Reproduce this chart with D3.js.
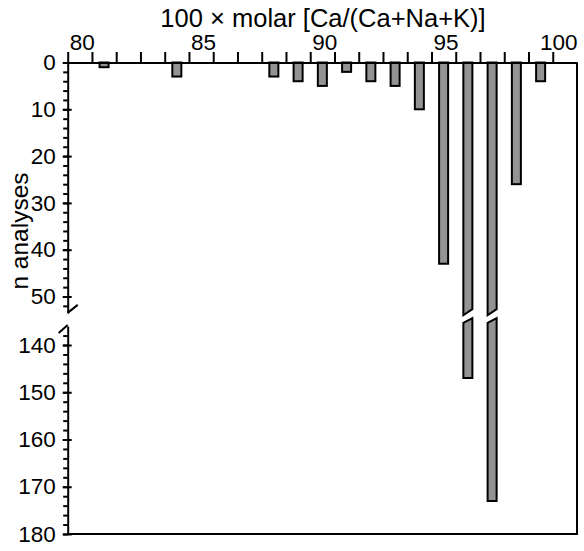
<!DOCTYPE html>
<html>
<head>
<meta charset="utf-8">
<script src="https://cdn.jsdelivr.net/npm/d3@7"></script>
<style>
  body { margin: 0; background: #fff; }
  svg { font-family: "Liberation Sans", Arial, sans-serif; }
  .axis text { font-size: 22.5px; fill: #000; }
  .axis path, .axis line { stroke: #000; stroke-width: 2; }
</style>
</head>
<body>
<div id="chart"></div>
<script>
// datos: bin (inicio del intervalo) y número de análisis
const bins = [81, 84, 88, 89, 90, 91, 92, 93, 94, 95, 96, 97, 98, 99]
const counts = [1, 3, 3, 4, 5, 2, 4, 5, 10, 43, 147, 173, 26, 4]
const xTicks = d3.range(80, 101)
const xLabels = [80, 85, 90, 95, 100]
const yTopLabels = [0, 10, 20, 30, 40, 50]
const yBotLabels = [140, 150, 160, 170, 180]

const width = 584
const height = 551
const plotLeft = 67.7, plotRight = 577
const plotTop = 62.5, plotBottom = 534

const svg = d3.select("div#chart").append("svg").attr("width", width).attr("height", height)

// escalas
const x = d3.scaleLinear().domain([80, 101]).range([plotLeft, plotRight])
const yTop = d3.scaleLinear().domain([0, 53.5]).range([plotTop, plotTop + 53.5 * 4.68])
const yBot = d3.scaleLinear().domain([136, 180]).range([plotBottom - 44 * 4.725, plotBottom])

// barras
const data = bins.map((b, i) => ({bin: b, n: counts[i]}))
const half = 0.186
const bars = svg.append("g").attr("class", "bars")
  .attr("fill", "#939393").attr("stroke", "#000").attr("stroke-width", 2).attr("stroke-linejoin", "miter")

data.forEach(d => {
  const x0 = x(d.bin + 0.5 - half), x1 = x(d.bin + 0.5 + half)
  if (d.n <= 53) {
    bars.append("rect")
      .attr("x", x0).attr("y", yTop(0))
      .attr("width", x1 - x0).attr("height", yTop(d.n) - yTop(0))
  } else {
    // barra rota: parte superior e inferior con corte inclinado
    bars.append("polygon").attr("points", [
      [x0, yTop(0)], [x1, yTop(0)], [x1, yTop(52.7)], [x0, yTop(54)]
    ].join(" "))
    bars.append("polygon").attr("points", [
      [x0, yBot(135.3)], [x1, yBot(134.3)], [x1, yBot(d.n)], [x0, yBot(d.n)]
    ].join(" "))
  }
})

// eje x (arriba)
const xAxis = d3.axisTop(x).tickValues(xTicks).tickSize(10.5).tickSizeOuter(0).tickPadding(2)
  .tickFormat(d => xLabels.includes(d) ? d : "")
const xAxisGroup = svg.append("g").attr("class", "axis").attr("transform", `translate(0, ${plotTop})`).call(xAxis)
// etiquetas empiezan en la marca; la última se ajusta al borde derecho
xAxisGroup.selectAll("text")
  .attr("text-anchor", d => d === 100 ? "end" : "start")
  .attr("dx", d => d === 100 ? x(101) - x(100) : 1.5)

// eje y, tramo superior
const yTopMinor = d3.axisLeft(yTop).tickValues(d3.range(0, 53, 2)).tickSize(4.5).tickSizeOuter(0).tickFormat("")
svg.append("g").attr("class", "axis").attr("transform", `translate(${plotLeft}, 0)`).call(yTopMinor)
const yTopMajor = d3.axisLeft(yTop).tickValues(yTopLabels).tickSize(9).tickPadding(7)
const yTopGroup = svg.append("g").attr("class", "axis").attr("transform", `translate(${plotLeft + 4}, 0)`).call(yTopMajor)
yTopGroup.select(".domain").remove()

// eje y, tramo inferior
const yBotMinor = d3.axisLeft(yBot).tickValues(d3.range(138, 181, 2)).tickSize(4.5).tickSizeOuter(0).tickFormat("")
svg.append("g").attr("class", "axis").attr("transform", `translate(${plotLeft}, 0)`).call(yBotMinor)
const yBotMajor = d3.axisLeft(yBot).tickValues(yBotLabels).tickSize(9).tickPadding(7)
const yBotGroup = svg.append("g").attr("class", "axis").attr("transform", `translate(${plotLeft + 4}, 0)`).call(yBotMajor)
yBotGroup.select(".domain").remove()

// marcas de corte del eje
const brk = svg.append("g").attr("stroke", "#000").attr("stroke-width", 2).attr("fill", "none")
brk.append("line").attr("x1", plotLeft).attr("y1", yTop(53.5)).attr("x2", plotLeft + 10).attr("y2", yTop(53.5) - 8)
brk.append("line").attr("x1", plotLeft - 9).attr("y1", yBot(136) + 7).attr("x2", plotLeft).attr("y2", yBot(136) - 1)

// marco derecho e inferior
svg.append("path").attr("fill", "none").attr("stroke", "#000").attr("stroke-width", 2)
  .attr("d", `M${plotLeft},${plotBottom}H${plotRight}V${plotTop}`)

// títulos
svg.append("text").attr("x", 323).attr("y", 27).attr("text-anchor", "middle")
  .attr("font-size", 25.5).text("100 × molar [Ca/(Ca+Na+K)]")
svg.append("text").attr("transform", "translate(28, 231) rotate(-90)").attr("text-anchor", "middle")
  .attr("font-size", 24.5).text("n analyses")
</script>
</body>
</html>
